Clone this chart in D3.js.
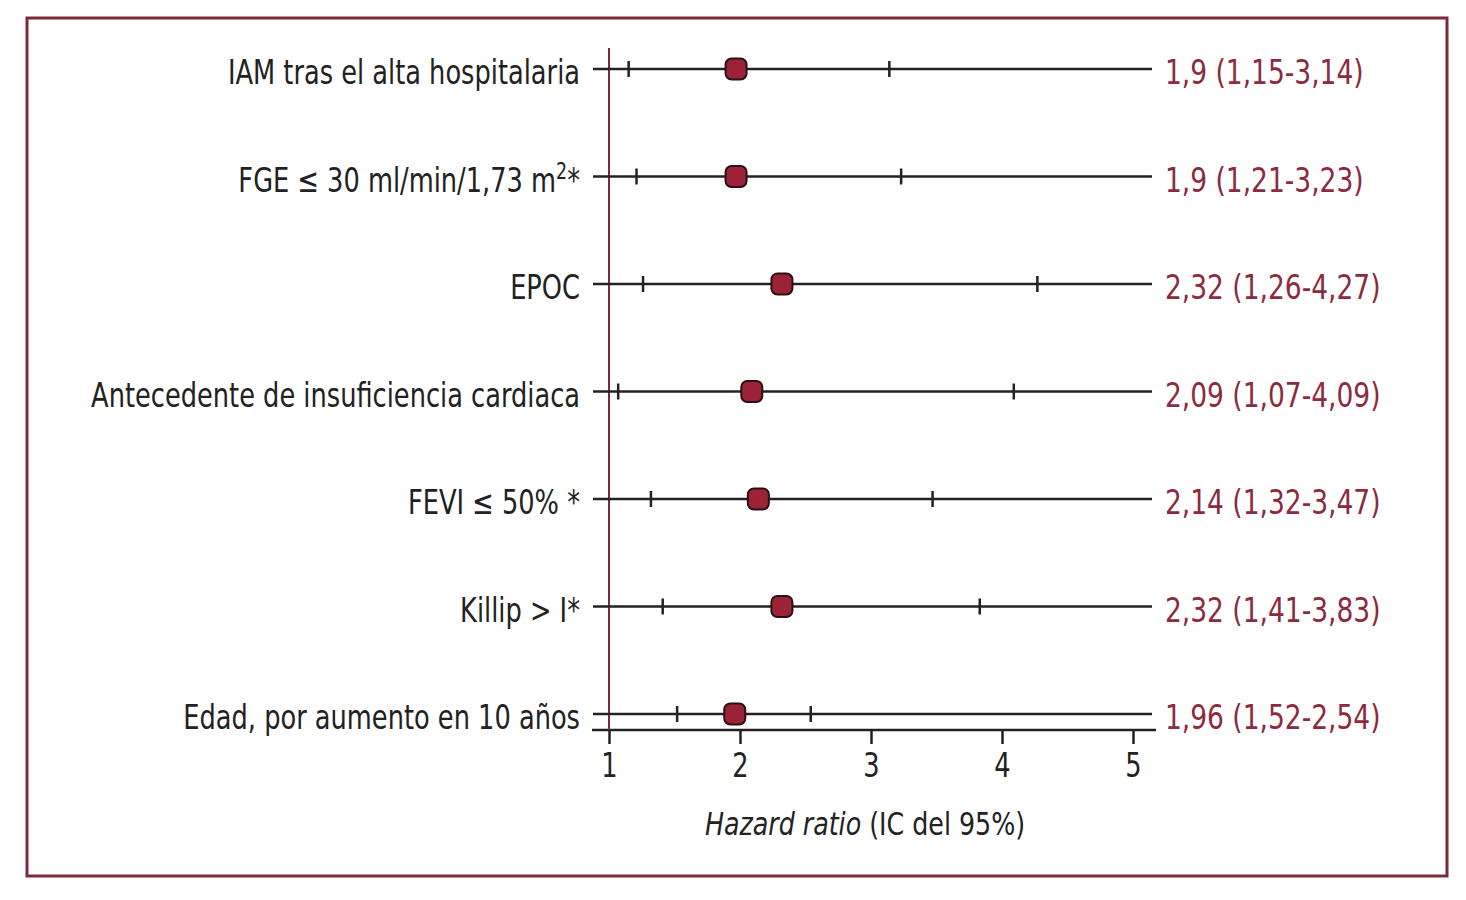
<!DOCTYPE html>
<html>
<head>
<meta charset="utf-8">
<script src="https://cdn.jsdelivr.net/npm/d3@7"></script>
<style>
  body { margin: 0; background: #fff; }
  text { font-family: "Liberation Sans Narrow", "DejaVu Sans Condensed", "Roboto", sans-serif; }
</style>
</head>
<body>
<script>
// Chart data
const labels = [
  "IAM tras el alta hospitalaria",
  "FGE \u2264 30 ml/min/1,73 m",
  "EPOC",
  "Antecedente de insuficiencia cardiaca",
  "FEVI \u2264 50% *",
  "Killip > I*",
  "Edad, por aumento en 10 a\u00f1os"
];
const hr = [1.97, 1.97, 2.32, 2.09, 2.14, 2.32, 1.96];
const lower = [1.15, 1.21, 1.26, 1.07, 1.32, 1.41, 1.52];
const upper = [3.14, 3.23, 4.27, 4.09, 3.47, 3.83, 2.54];
const hrText = [
  "1,9 (1,15-3,14)",
  "1,9 (1,21-3,23)",
  "2,32 (1,26-4,27)",
  "2,09 (1,07-4,09)",
  "2,14 (1,32-3,47)",
  "2,32 (1,41-3,83)",
  "1,96 (1,52-2,54)"
];
const xTicks = [1, 2, 3, 4, 5];

const width = 1466;
const height = 900;
const red = "#8c2a3f";
const frame = "#7a2a3c";
const squeeze = 0.84; // narrow the font horizontally

var svg = d3.select("body")
    .append("svg")
    .attr("width", width)
    .attr("height", height);

// outer frame
svg.append("rect")
    .attr("x", 27).attr("y", 18)
    .attr("width", 1420).attr("height", 858)
    .attr("fill", "none")
    .attr("stroke", frame)
    .attr("stroke-width", 3);

var x = d3.scaleLinear().domain([1, 5]).range([609, 1133]);
var y = d3.scalePoint().domain(d3.range(labels.length)).range([69, 714]);

// x axis
var xAxis = d3.axisBottom(x)
    .tickValues(xTicks)
    .tickFormat(d3.format("d"))
    .tickSize(14)
    .tickSizeOuter(0);
var gx = svg.append("g")
    .attr("transform", "translate(0,730)")
    .call(xAxis);
gx.select(".domain").remove();
gx.append("line")
    .attr("x1", 592).attr("x2", 1156)
    .attr("stroke", "#222").attr("stroke-width", 2.5);
gx.selectAll(".tick line").attr("stroke", "#222").attr("stroke-width", 2.5);
gx.selectAll(".tick text")
    .attr("y", 47)
    .attr("dy", 0)
    .attr("fill", "#222")
    .attr("font-size", 34)
    .attr("transform", `scale(${squeeze},1)`)
    .style("font-family", "\"Liberation Sans Narrow\", \"DejaVu Sans Condensed\", sans-serif");

// axis title
var title = svg.append("g")
    .attr("transform", `translate(865,835) scale(0.88,1)`)
    .append("text")
    .attr("text-anchor", "middle")
    .attr("font-size", 32)
    .attr("fill", "#222");
title.append("tspan").attr("font-style", "italic").text("Hazard ratio");
title.append("tspan").text(" (IC del 95%)");

// reference line at HR = 1
svg.append("line")
    .attr("x1", x(1)).attr("x2", x(1))
    .attr("y1", 48).attr("y2", 730)
    .attr("stroke", frame)
    .attr("stroke-width", 2);

var rows = svg.selectAll("g.row")
    .data(labels)
    .join("g")
    .attr("class", "row")
    .attr("transform", (d, i) => `translate(0,${y(i)})`);

rows.append("line")
    .attr("x1", 593).attr("x2", 1152)
    .attr("stroke", "#222").attr("stroke-width", 2.5);

rows.append("line")
    .attr("x1", (d, i) => x(lower[i])).attr("x2", (d, i) => x(lower[i]))
    .attr("y1", -8).attr("y2", 8)
    .attr("stroke", "#222").attr("stroke-width", 2.5);
rows.append("line")
    .attr("x1", (d, i) => x(upper[i])).attr("x2", (d, i) => x(upper[i]))
    .attr("y1", -8).attr("y2", 8)
    .attr("stroke", "#222").attr("stroke-width", 2.5);

rows.append("rect")
    .attr("x", (d, i) => x(hr[i]) - 10.5)
    .attr("y", -10.5)
    .attr("width", 21).attr("height", 21)
    .attr("rx", 6)
    .attr("fill", "#9b2335")
    .attr("stroke", "#2a1015")
    .attr("stroke-width", 2);

// row labels
var lab = rows.append("g")
    .attr("transform", `translate(580,15) scale(${squeeze},1)`)
    .append("text")
    .attr("text-anchor", "end")
    .attr("font-size", 34)
    .attr("fill", "#222")
    .text(d => d);
lab.filter((d, i) => i === 1).each(function() {
  var t = d3.select(this);
  t.append("tspan").attr("dy", -13).attr("font-size", 23).text("2");
  t.append("tspan").attr("dy", 13).text("*");
});

// estimates on the right
rows.append("g")
    .attr("transform", `translate(1165,15) scale(0.866,1)`)
    .append("text")
    .attr("font-size", 34)
    .attr("fill", red)
    .text((d, i) => hrText[i]);
</script>
</body>
</html>
